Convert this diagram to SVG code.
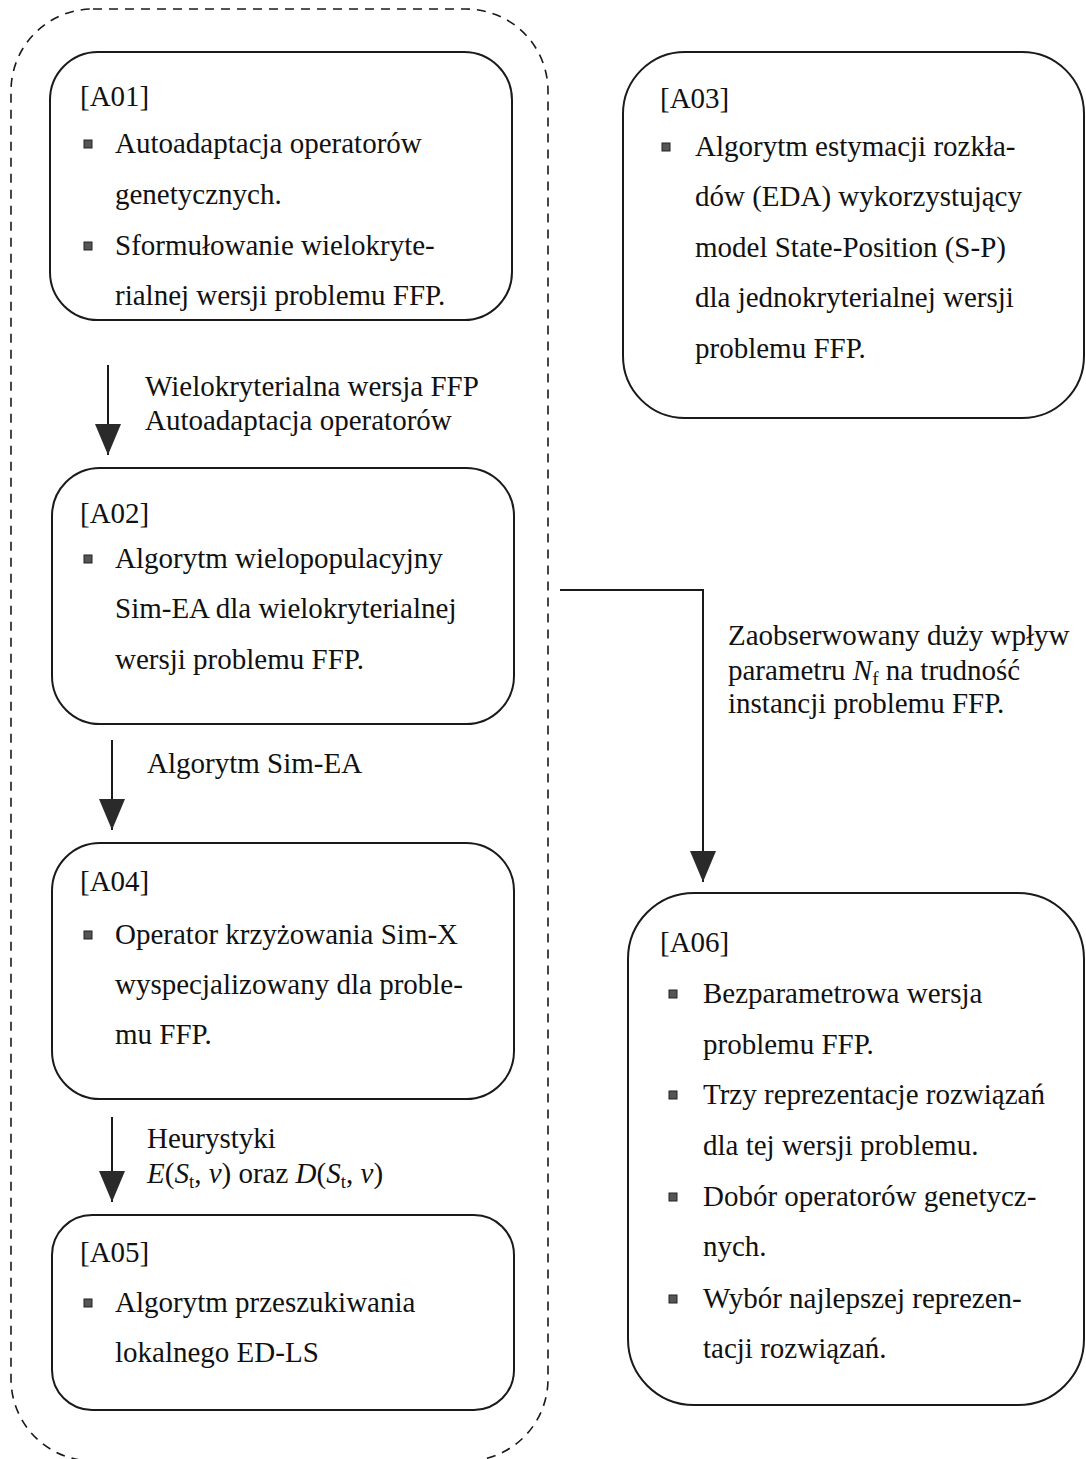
<svg xmlns="http://www.w3.org/2000/svg" width="1086" height="1459" viewBox="0 0 1086 1459">
  <style>
    text { font-family: "Liberation Serif", "Times New Roman", serif; font-size: 29px; fill: #111; }
    .box { fill: none; stroke: #1a1a1a; stroke-width: 2; }
    .group { fill: none; stroke: #1a1a1a; stroke-width: 1.6; stroke-dasharray: 9 7; }
    .edge { fill: none; stroke: #1a1a1a; stroke-width: 2; }
    .bullet { fill: #555; stroke: #222; stroke-width: 1; }
    .it { font-style: italic; }
    .sub { font-size: 19px; }
  </style>
  <defs>
    <marker id="head" markerUnits="userSpaceOnUse" markerWidth="32" markerHeight="26" refX="31" refY="13" orient="auto">
      <path d="M0,0 L31,13 L0,26 z" fill="#2a2a2a"/>
    </marker>
  </defs>

  <rect width="1086" height="1459" fill="#fff"/>

  <!-- dashed grouping frame around the left column -->
  <rect id="group-left" class="group" x="11" y="9" width="537" height="1452" rx="82" ry="82"/>

  <!-- connectors -->
  <g id="connectors">
    <line class="edge" x1="108" y1="365" x2="108" y2="455" marker-end="url(#head)"/>
    <line class="edge" x1="112" y1="740" x2="112" y2="830" marker-end="url(#head)"/>
    <line class="edge" x1="112" y1="1117" x2="112" y2="1202" marker-end="url(#head)"/>
    <polyline class="edge" points="560,590 703,590 703,882" marker-end="url(#head)"/>
  </g>

  <!-- connector labels -->
  <g id="labels">
    <text x="145" y="396">Wielokryterialna wersja FFP</text>
    <text x="145" y="430">Autoadaptacja operatorów</text>
    <text x="147" y="773">Algorytm Sim-EA</text>
    <text x="147" y="1148">Heurystyki</text>
    <text x="147" y="1183"><tspan class="it">E</tspan>(<tspan class="it">S</tspan><tspan class="sub" dy="5">t</tspan><tspan dy="-5">, </tspan><tspan class="it">v</tspan>) oraz <tspan class="it">D</tspan>(<tspan class="it">S</tspan><tspan class="sub" dy="5">t</tspan><tspan dy="-5">, </tspan><tspan class="it">v</tspan>)</text>
    <text x="728" y="645">Zaobserwowany duży wpływ</text>
    <text x="728" y="680">parametru <tspan class="it">N</tspan><tspan class="sub" dy="5">f</tspan><tspan dy="-5"> na trudność</tspan></text>
    <text x="728" y="713">instancji problemu FFP.</text>
  </g>

  <!-- A01 -->
  <g id="A01">
    <rect class="box" x="50" y="52" width="462" height="268" rx="48" ry="48"/>
    <text x="80" y="106">[A01]</text>
    <rect class="bullet" x="84" y="140" width="8" height="8"/>
    <text x="115" y="153">Autoadaptacja operatorów</text>
    <text x="115" y="204">genetycznych.</text>
    <rect class="bullet" x="84" y="242" width="8" height="8"/>
    <text x="115" y="255">Sformułowanie wielokryte-</text>
    <text x="115" y="305">rialnej wersji problemu FFP.</text>
  </g>

  <!-- A02 -->
  <g id="A02">
    <rect class="box" x="52" y="468" width="462" height="256" rx="48" ry="48"/>
    <text x="80" y="523">[A02]</text>
    <rect class="bullet" x="84" y="555" width="8" height="8"/>
    <text x="115" y="568">Algorytm wielopopulacyjny</text>
    <text x="115" y="618">Sim-EA dla wielokryterialnej</text>
    <text x="115" y="669">wersji problemu FFP.</text>
  </g>

  <!-- A04 -->
  <g id="A04">
    <rect class="box" x="52" y="843" width="462" height="256" rx="48" ry="48"/>
    <text x="80" y="891">[A04]</text>
    <rect class="bullet" x="84" y="931" width="8" height="8"/>
    <text x="115" y="944">Operator krzyżowania Sim-X</text>
    <text x="115" y="994">wyspecjalizowany dla proble-</text>
    <text x="115" y="1044">mu FFP.</text>
  </g>

  <!-- A05 -->
  <g id="A05">
    <rect class="box" x="52" y="1215" width="462" height="195" rx="40" ry="40"/>
    <text x="80" y="1262">[A05]</text>
    <rect class="bullet" x="84" y="1299" width="8" height="8"/>
    <text x="115" y="1312">Algorytm przeszukiwania</text>
    <text x="115" y="1362">lokalnego ED-LS</text>
  </g>

  <!-- A03 -->
  <g id="A03">
    <rect class="box" x="623" y="52" width="461" height="366" rx="62" ry="62"/>
    <text x="660" y="108">[A03]</text>
    <rect class="bullet" x="662" y="143" width="8" height="8"/>
    <text x="695" y="156">Algorytm estymacji rozkła-</text>
    <text x="695" y="206">dów (EDA) wykorzystujący</text>
    <text x="695" y="257">model State-Position (S-P)</text>
    <text x="695" y="307">dla jednokryterialnej wersji</text>
    <text x="695" y="358">problemu FFP.</text>
  </g>

  <!-- A06 -->
  <g id="A06">
    <rect class="box" x="628" y="893" width="456" height="512" rx="66" ry="66"/>
    <text x="660" y="952">[A06]</text>
    <rect class="bullet" x="669" y="990" width="8" height="8"/>
    <text x="703" y="1003">Bezparametrowa wersja</text>
    <text x="703" y="1054">problemu FFP.</text>
    <rect class="bullet" x="669" y="1091" width="8" height="8"/>
    <text x="703" y="1104">Trzy reprezentacje rozwiązań</text>
    <text x="703" y="1155">dla tej wersji problemu.</text>
    <rect class="bullet" x="669" y="1193" width="8" height="8"/>
    <text x="703" y="1206">Dobór operatorów genetycz-</text>
    <text x="703" y="1256">nych.</text>
    <rect class="bullet" x="669" y="1295" width="8" height="8"/>
    <text x="703" y="1308">Wybór najlepszej reprezen-</text>
    <text x="703" y="1358">tacji rozwiązań.</text>
  </g>
</svg>
